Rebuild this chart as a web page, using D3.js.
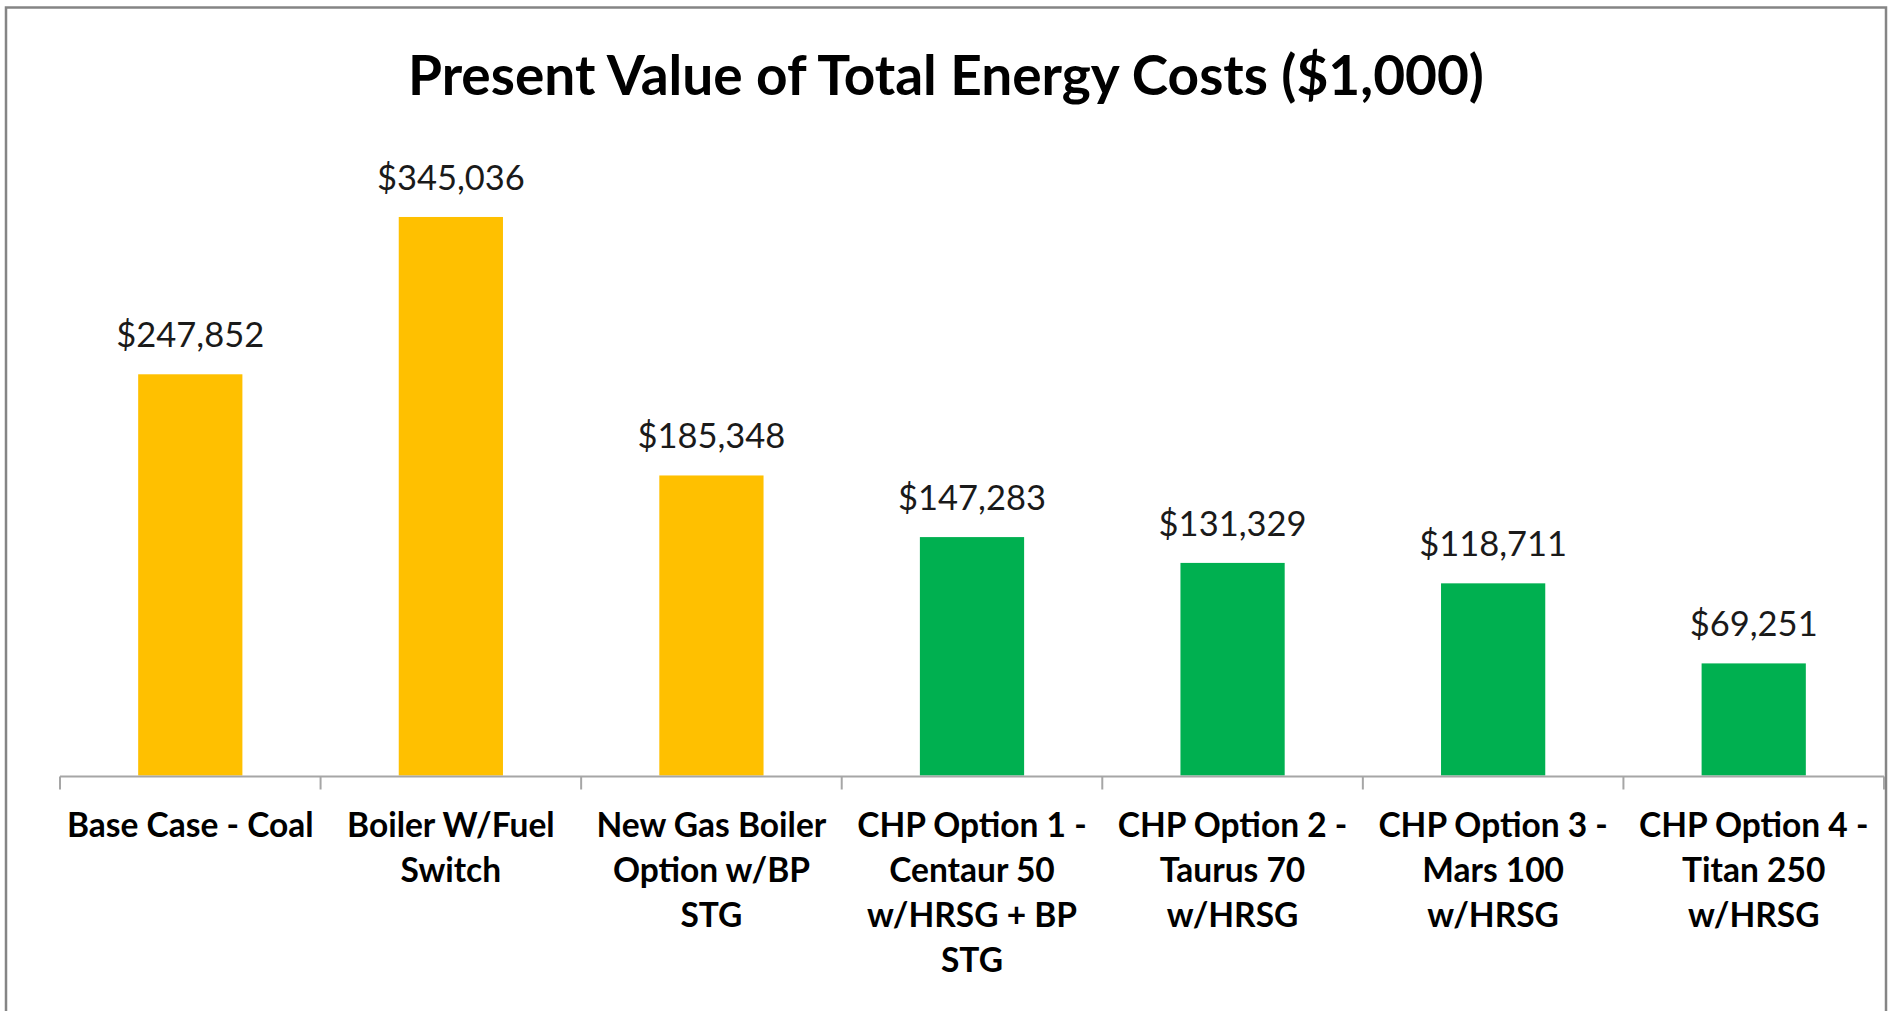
<!DOCTYPE html>
<html>
<head>
<meta charset="utf-8">
<script src="https://cdn.jsdelivr.net/npm/d3@7"></script>
<style>
  body { margin: 0; background: #fff; }
  text { font-family: Lato, "Open Sans", sans-serif; }
</style>
</head>
<body>
<div id="chart"></div>
<script>
// chart data
const categories = [
  'Base Case - Coal',
  'Boiler W/Fuel\nSwitch',
  'New Gas Boiler\nOption w/BP\nSTG',
  'CHP Option 1 -\nCentaur 50\nw/HRSG + BP\nSTG',
  'CHP Option 2 -\nTaurus 70\nw/HRSG',
  'CHP Option 3 -\nMars 100\nw/HRSG',
  'CHP Option 4 -\nTitan 250\nw/HRSG'
];
const values = [247852, 345036, 185348, 147283, 131329, 118711, 69251];
const groups = ['Boiler', 'Boiler', 'Boiler', 'CHP', 'CHP', 'CHP', 'CHP'];
const yMax = 400000;
const title = 'Present Value of Total Energy Costs ($1,000)';

const width = 1891;
const height = 1011;

const svg = d3.select('#chart')
  .append('svg')
  .attr('width', width)
  .attr('height', height);

// outer chart frame
svg.append('rect')
  .attr('x', 6)
  .attr('y', 7.5)
  .attr('width', 1880)
  .attr('height', 1100)
  .attr('fill', 'none')
  .attr('stroke', '#858585')
  .attr('stroke-width', 2.5);

const x = d3.scaleBand()
  .domain(categories)
  .range([60, 1884])
  .paddingInner(0.6)
  .paddingOuter(0.3);

const y = d3.scaleLinear()
  .domain([0, yMax])
  .range([775.5, 128]);

const color = d3.scaleOrdinal()
  .domain(['Boiler', 'CHP'])
  .range(['#FFC000', '#00B050']);

// title
svg.append('text')
  .attr('x', 946)
  .attr('y', 95)
  .attr('text-anchor', 'middle')
  .style('font-size', '55px')
  .style('font-weight', 'bold')
  .attr('fill', '#000')
  .text(title);

// bars
svg.selectAll('rect.bar')
  .data(values)
  .enter()
  .append('rect')
  .classed('bar', true)
  .attr('x', (d, i) => x(categories[i]))
  .attr('y', d => y(d))
  .attr('width', x.bandwidth())
  .attr('height', d => y(0) - y(d))
  .attr('fill', (d, i) => color(groups[i]));

// value labels
svg.selectAll('text.val')
  .data(values)
  .enter()
  .append('text')
  .classed('val', true)
  .attr('x', (d, i) => x(categories[i]) + x.bandwidth() / 2)
  .attr('y', d => y(d) - 27)
  .attr('text-anchor', 'middle')
  .style('font-size', '34.5px')
  .attr('fill', '#1a1a1a')
  .text(d => d3.format('$,')(d));

// category axis: line plus ticks between categories
const gAxis = svg.append('g');
gAxis.append('line')
  .attr('x1', x.range()[0])
  .attr('x2', x.range()[1])
  .attr('y1', y(0) + 1)
  .attr('y2', y(0) + 1)
  .attr('stroke', '#a6a6a6')
  .attr('stroke-width', 2);

const bounds = categories.map(c => x(c) - x.step() * x.paddingInner() / 2)
  .concat([x.range()[1]]);
gAxis.selectAll('line.tick')
  .data(bounds)
  .enter()
  .append('line')
  .classed('tick', true)
  .attr('x1', d => d)
  .attr('x2', d => d)
  .attr('y1', y(0) + 1)
  .attr('y2', y(0) + 14)
  .attr('stroke', '#a6a6a6')
  .attr('stroke-width', 2);

// category labels, one tspan per line
categories.forEach(function(c) {
  const t = gAxis.append('text')
    .attr('x', x(c) + x.bandwidth() / 2)
    .attr('y', 837)
    .attr('text-anchor', 'middle')
    .style('font-size', '33.5px')
    .style('font-weight', 'bold')
    .attr('fill', '#000');
  c.split('\n').forEach(function(line, i) {
    t.append('tspan')
      .attr('x', x(c) + x.bandwidth() / 2)
      .attr('dy', i == 0 ? 0 : 45)
      .text(line);
  });
});
</script>
</body>
</html>
